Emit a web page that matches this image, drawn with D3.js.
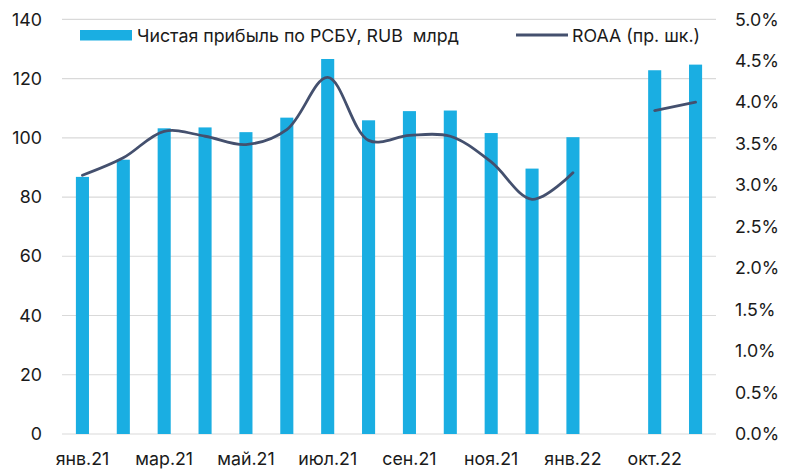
<!DOCTYPE html>
<html><head><meta charset="utf-8">
<script src="https://cdn.jsdelivr.net/npm/d3@7"></script>
<style>
html,body{margin:0;padding:0;background:#fff;}
text{font-family:Inter,"Noto Sans",sans-serif;fill:#1a1a1a;}
</style></head>
<body><svg id="c" width="796" height="473"></svg>
<script>
const categories = ["янв.21","фев.21","мар.21","апр.21","май.21","июн.21","июл.21","авг.21","сен.21","окт.21","ноя.21","дек.21","янв.22","","окт.22","ноя.22"];
const xLabels = ["янв.21","","мар.21","","май.21","","июл.21","","сен.21","","ноя.21","","янв.22","","окт.22",""];
const profit = [86.8,92.6,103.2,103.5,101.9,106.8,126.6,105.9,109.0,109.2,101.6,89.6,100.2,null,122.8,124.7];
const roaa = [3.12,3.33,3.65,3.59,3.49,3.67,4.30,3.54,3.60,3.59,3.28,2.83,3.15,null,3.90,4.00];
const leftTicks = [0,20,40,60,80,100,120,140];
const rightTicks = [0,0.5,1,1.5,2,2.5,3,3.5,4,4.5,5];
const legendBar = "Чистая прибыль по РСБУ, RUB  млрд";
const legendLine = "ROAA (пр. шк.)";

const FS = "17.8px";
const svg = d3.select("#c");
const L = 62, R = 716, T = 19.3, B = 434;
const x = d3.scaleBand().domain(d3.range(categories.length)).range([L,R]).paddingInner(0.68).paddingOuter(0.34);
const y = d3.scaleLinear().domain([0,140]).range([B,T]);
const y2 = d3.scaleLinear().domain([0,5]).range([B,T]);

// gridlines
svg.append("g").selectAll("line").data(leftTicks).join("line")
  .attr("x1",L).attr("x2",R).attr("y1",d=>y(d)).attr("y2",d=>y(d))
  .attr("stroke","#d9d9d9").attr("stroke-width",1.2);

// left axis labels
const ax = svg.append("g").attr("transform",`translate(42,0)`)
  .call(d3.axisLeft(y).tickValues(leftTicks).tickSize(0).tickPadding(0).tickFormat(d3.format("d")));
ax.select(".domain").remove();
ax.selectAll("text").style("font-size",FS).attr("fill","#1a1a1a");

// right axis labels
const ax2 = svg.append("g").attr("transform",`translate(735,0)`)
  .call(d3.axisRight(y2).tickValues(rightTicks).tickSize(0).tickPadding(0).tickFormat(d=>d3.format(".1f")(d)+"%"));
ax2.select(".domain").remove();
ax2.selectAll("text").style("font-size",FS).attr("fill","#1a1a1a");

// x labels
const ax3 = svg.append("g").attr("transform",`translate(0,452)`)
  .call(d3.axisBottom(x).tickSize(0).tickPadding(0).tickFormat(i=>xLabels[i]));
ax3.select(".domain").remove();
ax3.selectAll("text").style("font-size",FS).attr("fill","#1a1a1a");

// bars
svg.append("g").selectAll("rect").data(profit.map((v,i)=>({v,i})).filter(d=>d.v!=null)).join("rect")
  .attr("x",d=>x(d.i)).attr("width",x.bandwidth())
  .attr("y",d=>y(d.v)).attr("height",d=>B-y(d.v))
  .attr("fill","#1aaee2");

// line
const line = d3.line().defined(d=>d.v!=null)
  .x(d=>x(d.i)+x.bandwidth()/2).y(d=>y2(d.v))
  .curve(d3.curveCatmullRom.alpha(0.5));
svg.append("path").datum(roaa.map((v,i)=>({v,i})))
  .attr("d",line).attr("fill","none").attr("stroke","#44506e").attr("stroke-width",2.8)
  .attr("stroke-linecap","round");

// legend
const lg = svg.append("g");
lg.append("rect").attr("x",80).attr("y",30).attr("width",52).attr("height",10.5).attr("fill","#1aaee2");
lg.append("text").attr("x",137).attr("y",36).attr("dy","0.35em").style("font-size",FS).style("white-space","pre").text(legendBar);
lg.append("line").attr("x1",516).attr("x2",568).attr("y1",35).attr("y2",35).attr("stroke","#44506e").attr("stroke-width",2.8);
lg.append("text").attr("x",572).attr("y",36).attr("dy","0.35em").style("font-size",FS).text(legendLine);
</script></body></html>
